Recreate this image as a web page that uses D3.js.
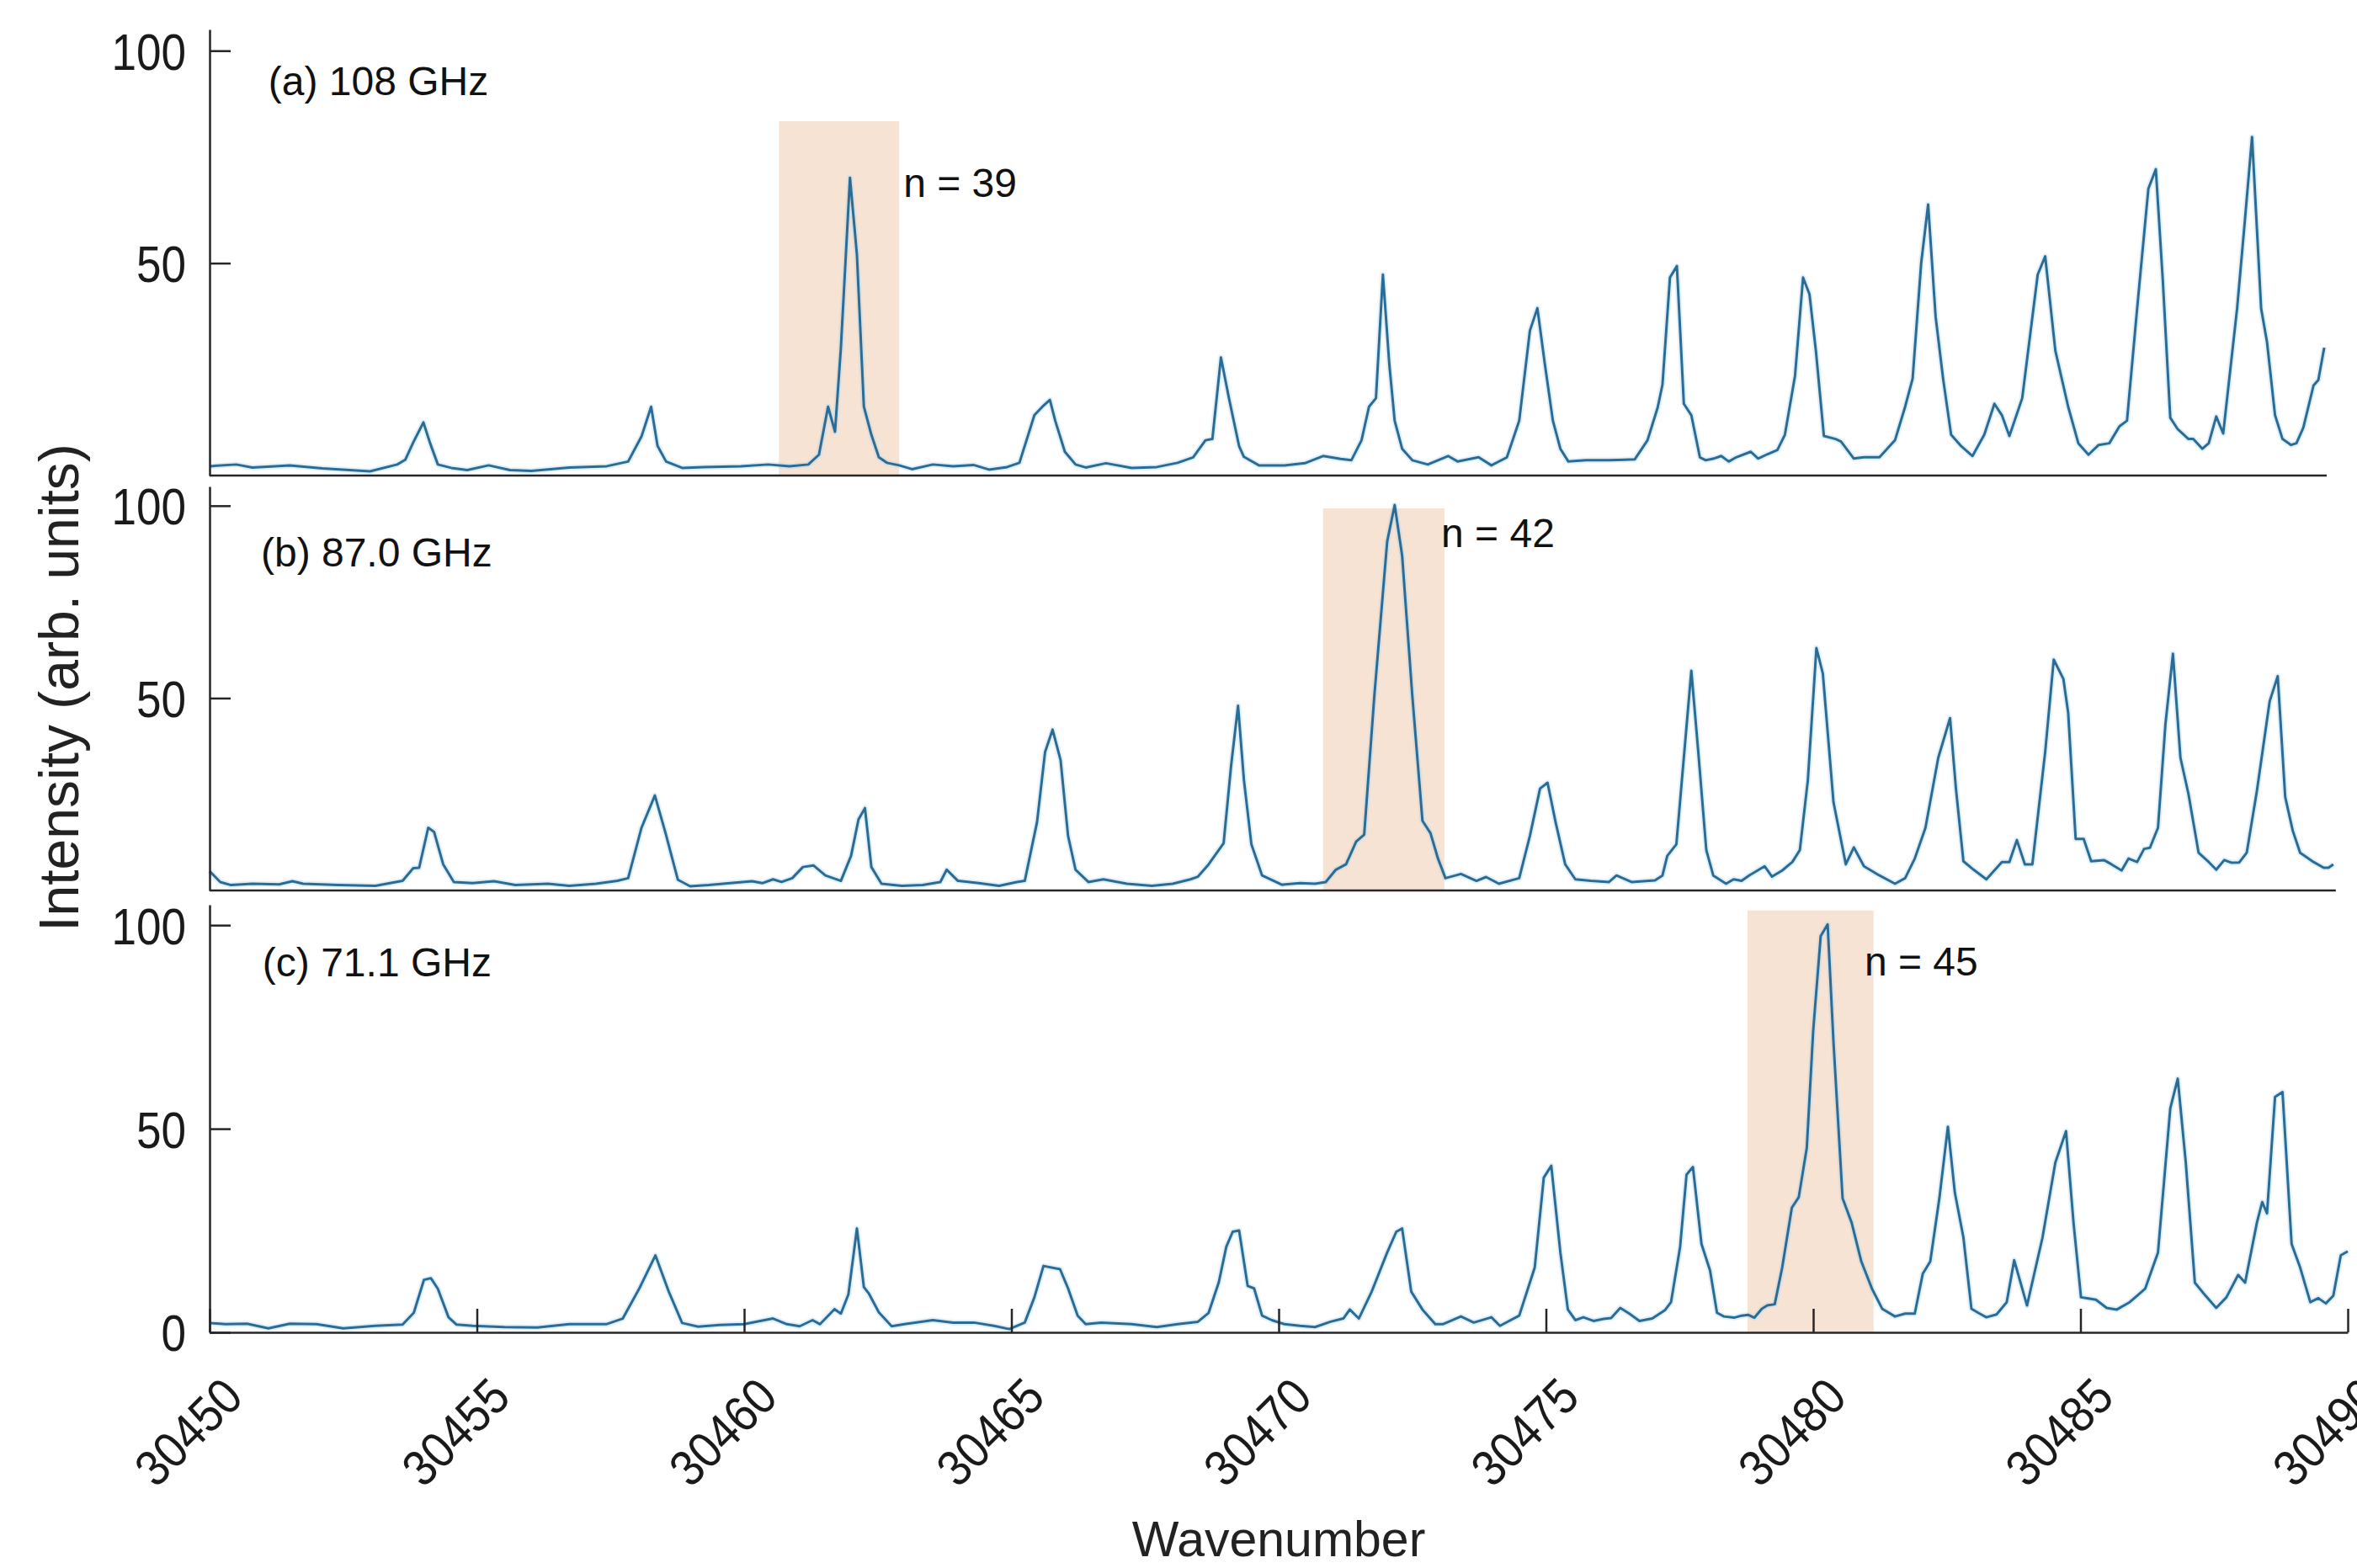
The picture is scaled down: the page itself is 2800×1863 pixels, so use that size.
<!DOCTYPE html>
<html>
<head>
<meta charset="utf-8">
<script src="https://cdn.jsdelivr.net/npm/d3@7"></script>
<style>
  html, body { margin: 0; padding: 0; background: #ffffff; }
  svg { display: block; }
</style>
</head>
<body>
<svg id="chart" width="2800" height="1863"></svg>
<script>
// ---------------- DATA ----------------
const panelTitles = ["(a) 108 GHz", "(b) 87.0 GHz", "(c) 71.1 GHz"];
const peakLabels = ["n = 39", "n = 42", "n = 45"];
// highlighted band per panel: [wavenumber start, wavenumber end, top intensity]
const highlightBands = [
  [30460.65, 30462.9, 83.4],
  [30470.83, 30473.1, 99.3],
  [30478.77, 30481.13, 103.6]
];
const xTickValues = [30450, 30455, 30460, 30465, 30470, 30475, 30480, 30485, 30490];
const yTickValuesUpper = [50, 100];
const yTickValuesBottom = [0, 50, 100];
const xAxisTitle = "Wavenumber";
const yAxisTitle = "Intensity (arb. units)";

// spectrum (a) 108 GHz : [wavenumber, intensity]
const spectrum108 = [
  [30450.0,2.2],[30450.5,2.6],[30450.8,1.9],[30451.5,2.4],[30452.11,1.7],[30453.0,1.0],
  [30453.51,2.6],[30453.66,3.7],[30453.81,7.8],[30454.0,12.5],[30454.12,7.8],[30454.27,2.6],
  [30454.52,1.8],[30454.82,1.3],[30455.22,2.4],[30455.62,1.3],[30456.02,1.1],[30456.73,1.9],
  [30457.43,2.2],[30457.83,3.3],[30458.08,9.2],[30458.26,16.2],[30458.38,7.0],[30458.54,3.3],
  [30458.84,1.8],[30459.24,2.0],[30459.94,2.2],[30460.45,2.6],[30460.85,2.2],[30461.2,2.6],
  [30461.4,4.9],[30461.57,16.2],[30461.7,10.3],[30461.81,30.1],[30461.98,70.1],[30462.11,52.0],
  [30462.24,16.2],[30462.38,9.6],[30462.52,4.3],[30462.67,3.0],[30462.9,2.4],[30463.14,1.5],
  [30463.53,2.6],[30463.91,2.2],[30464.29,2.5],[30464.58,1.4],[30464.92,2.0],[30465.15,3.0],
  [30465.43,14.2],[30465.58,16.2],[30465.72,17.8],[30465.82,12.9],[30466.0,5.6],[30466.2,2.6],
  [30466.39,1.9],[30466.77,2.9],[30467.25,1.8],[30467.72,2.0],[30468.11,3.0],[30468.4,4.3],
  [30468.63,8.3],[30468.76,8.6],[30468.92,27.8],[30469.07,18.2],[30469.26,6.9],[30469.35,4.4],
  [30469.63,2.4],[30470.11,2.4],[30470.49,2.9],[30470.83,4.6],[30471.16,3.9],[30471.36,3.6],
  [30471.55,8.3],[30471.69,16.2],[30471.82,18.2],[30471.95,47.3],[30472.07,26.2],[30472.17,12.9],
  [30472.31,6.3],[30472.5,3.6],[30472.79,2.6],[30473.17,4.6],[30473.35,3.3],[30473.74,4.3],
  [30473.98,2.4],[30474.27,4.3],[30474.5,12.9],[30474.7,34.1],[30474.84,39.4],[30474.98,26.2],
  [30475.13,12.9],[30475.27,6.3],[30475.42,3.3],[30475.75,3.6],[30476.18,3.6],[30476.47,3.7],
  [30476.66,3.8],[30476.9,8.3],[30477.09,16.0],[30477.18,21.4],[30477.32,46.6],[30477.45,49.3],
  [30477.58,16.9],[30477.72,14.2],[30477.88,4.3],[30477.99,3.6],[30478.14,4.0],[30478.28,4.6],
  [30478.42,3.3],[30478.56,4.3],[30478.83,5.6],[30478.97,4.0],[30479.14,5.0],[30479.33,6.0],
  [30479.47,9.6],[30479.66,23.5],[30479.81,46.6],[30479.93,42.7],[30480.05,29.4],[30480.2,9.3],
  [30480.42,8.6],[30480.52,8.0],[30480.76,4.0],[30480.95,4.3],[30481.24,4.3],[30481.53,8.3],
  [30481.72,16.2],[30481.86,22.8],[30482.02,50.0],[30482.15,63.8],[30482.29,37.4],[30482.43,22.8],
  [30482.58,9.6],[30482.77,6.9],[30482.98,4.6],[30483.2,9.6],[30483.39,16.9],[30483.53,14.2],
  [30483.67,9.3],[30483.91,18.2],[30484.2,47.3],[30484.34,51.6],[30484.53,29.4],[30484.77,16.2],
  [30484.96,7.6],[30485.15,4.9],[30485.34,7.2],[30485.54,7.6],[30485.73,11.6],[30485.87,12.9],
  [30486.06,39.3],[30486.27,67.5],[30486.41,72.1],[30486.54,46.0],[30486.68,13.6],[30486.82,10.9],
  [30487.02,8.6],[30487.11,8.6],[30487.28,6.3],[30487.4,7.6],[30487.54,13.9],[30487.67,9.9],
  [30487.93,39.3],[30488.07,59.2],[30488.21,79.7],[30488.38,39.3],[30488.49,31.4],[30488.64,14.2],
  [30488.78,8.6],[30488.94,7.2],[30489.04,7.6],[30489.17,11.3],[30489.36,21.2],[30489.45,22.5],
  [30489.56,30.1]
];

// spectrum (b) 87.0 GHz
const spectrum87 = [
  [30450.0,5.0],[30450.2,2.2],[30450.4,1.4],[30450.8,1.75],[30451.3,1.6],[30451.55,2.4],
  [30451.75,1.75],[30452.41,1.4],[30453.1,1.2],[30453.61,2.5],[30453.81,5.8],[30453.92,5.9],
  [30454.09,16.3],[30454.2,15.2],[30454.37,6.8],[30454.57,2.2],[30454.92,1.9],[30455.32,2.4],
  [30455.72,1.4],[30456.33,1.75],[30456.73,1.2],[30457.23,1.75],[30457.63,2.5],[30457.83,3.2],
  [30458.08,16.3],[30458.33,24.7],[30458.53,14.9],[30458.76,2.8],[30458.99,1.1],[30459.34,1.4],
  [30459.74,1.9],[30460.15,2.4],[30460.34,1.9],[30460.54,2.9],[30460.7,2.2],[30460.9,3.2],
  [30461.1,6.1],[30461.3,6.5],[30461.52,3.9],[30461.81,2.5],[30462.0,9.0],[30462.14,18.5],
  [30462.26,21.4],[30462.38,6.1],[30462.57,1.75],[30462.95,1.2],[30463.34,1.4],[30463.67,2.2],
  [30463.79,5.4],[30464.0,2.5],[30464.39,1.9],[30464.77,1.2],[30465.1,2.2],[30465.25,2.5],
  [30465.48,17.8],[30465.63,36.0],[30465.77,41.8],[30465.92,33.9],[30466.06,14.2],[30466.2,5.4],
  [30466.44,2.2],[30466.72,2.9],[30467.16,1.75],[30467.63,1.2],[30468.02,1.75],[30468.35,2.9],
  [30468.49,3.6],[30468.69,6.8],[30468.97,12.3],[30469.11,32.4],[30469.24,48.0],[30469.35,28.7],
  [30469.49,12.0],[30469.69,3.9],[30470.06,1.5],[30470.4,1.9],[30470.68,1.75],[30470.88,2.2],
  [30471.07,5.4],[30471.26,6.8],[30471.45,12.7],[30471.6,14.5],[30471.79,50.6],[30472.03,90.7],
  [30472.17,100.2],[30472.31,87.0],[30472.5,50.6],[30472.69,18.1],[30472.84,14.9],[30472.98,8.3],
  [30473.12,3.2],[30473.41,4.3],[30473.7,2.5],[30473.88,3.5],[30474.12,1.75],[30474.5,3.2],
  [30474.7,14.2],[30474.89,26.5],[30475.03,28.0],[30475.18,17.8],[30475.36,6.8],[30475.55,2.9],
  [30475.84,2.5],[30476.18,2.2],[30476.32,3.9],[30476.6,2.2],[30477.04,2.6],[30477.18,3.9],
  [30477.27,9.0],[30477.44,12.0],[30477.72,57.1],[30477.85,36.0],[30478.0,10.5],[30478.13,3.9],
  [30478.37,1.75],[30478.51,2.9],[30478.66,2.5],[30478.8,3.9],[30479.09,6.3],[30479.23,3.6],
  [30479.42,5.2],[30479.61,7.4],[30479.75,10.5],[30479.9,28.7],[30480.06,63.0],[30480.18,56.4],
  [30480.38,22.9],[30480.61,6.8],[30480.76,11.2],[30480.95,6.3],[30481.24,3.9],[30481.53,1.75],
  [30481.72,3.2],[30481.9,8.3],[30482.1,16.3],[30482.34,34.5],[30482.56,44.8],[30482.67,26.5],
  [30482.81,7.6],[30483.0,5.4],[30483.24,2.9],[30483.53,7.4],[30483.67,7.4],[30483.81,13.1],
  [30483.96,6.8],[30484.1,6.8],[30484.34,36.0],[30484.5,60.0],[30484.68,55.0],[30484.77,46.2],
  [30484.91,13.4],[30485.06,13.4],[30485.2,7.6],[30485.44,7.9],[30485.58,6.8],[30485.77,5.2],
  [30485.9,8.3],[30486.06,7.4],[30486.19,10.8],[30486.3,11.1],[30486.45,16.3],[30486.59,43.3],
  [30486.73,61.5],[30486.87,34.5],[30487.02,25.1],[30487.21,9.8],[30487.4,7.4],[30487.54,5.4],
  [30487.69,7.9],[30487.83,7.2],[30487.97,7.3],[30488.11,9.8],[30488.3,25.8],[30488.54,49.2],
  [30488.69,55.7],[30488.83,24.3],[30488.97,15.6],[30489.11,9.8],[30489.36,7.4],[30489.55,5.9],
  [30489.64,5.9],[30489.73,6.8]
];

// spectrum (c) 71.1 GHz
const spectrum71 = [
  [30450.0,2.3],[30450.3,2.0],[30450.7,2.1],[30451.1,1.0],[30451.5,2.1],[30452.0,2.0],
  [30452.5,1.0],[30453.1,1.6],[30453.61,1.9],[30453.82,4.8],[30454.01,12.9],[30454.14,13.3],
  [30454.27,10.7],[30454.47,3.7],[30454.62,1.9],[30454.92,1.6],[30455.52,1.3],[30456.13,1.2],
  [30456.73,2.0],[30457.42,2.0],[30457.73,3.4],[30458.04,10.8],[30458.34,18.9],[30458.59,10.0],
  [30458.84,2.3],[30459.14,1.4],[30459.54,1.8],[30460.0,2.0],[30460.54,3.4],[30460.8,2.0],
  [30461.04,1.5],[30461.28,3.0],[30461.42,2.0],[30461.69,5.7],[30461.81,4.6],[30461.95,9.3],
  [30462.11,25.5],[30462.24,11.1],[30462.33,9.6],[30462.52,4.9],[30462.76,1.5],[30463.0,2.0],
  [30463.53,3.0],[30463.91,2.4],[30464.3,2.4],[30464.67,1.6],[30464.96,0.8],[30465.25,2.4],
  [30465.43,8.6],[30465.6,16.3],[30465.91,15.5],[30466.06,10.8],[30466.24,4.1],[30466.39,2.0],
  [30466.68,2.4],[30467.25,2.0],[30467.72,1.3],[30468.11,2.0],[30468.49,2.6],[30468.69,4.8],
  [30468.88,12.3],[30469.02,21.0],[30469.14,24.7],[30469.26,25.0],[30469.42,11.4],[30469.54,10.8],
  [30469.69,4.1],[30469.87,3.0],[30470.11,2.0],[30470.4,1.6],[30470.68,1.3],[30470.97,2.6],
  [30471.21,3.4],[30471.33,5.6],[30471.5,3.4],[30471.74,10.0],[30472.03,19.6],[30472.2,24.7],
  [30472.31,25.5],[30472.48,10.0],[30472.69,5.6],[30472.93,2.0],[30473.07,2.0],[30473.41,3.9],
  [30473.65,2.4],[30473.98,3.7],[30474.14,1.6],[30474.5,4.1],[30474.79,15.9],[30474.96,38.0],
  [30475.1,40.9],[30475.27,19.6],[30475.41,5.6],[30475.55,3.0],[30475.7,3.7],[30475.89,2.8],
  [30476.08,3.3],[30476.22,3.5],[30476.39,6.0],[30476.56,4.6],[30476.75,2.8],[30476.99,3.4],
  [30477.23,5.5],[30477.34,7.4],[30477.51,21.0],[30477.63,38.7],[30477.75,40.6],[30477.91,21.7],
  [30478.07,15.2],[30478.2,4.8],[30478.33,3.9],[30478.52,3.6],[30478.66,4.1],[30478.78,4.3],
  [30478.9,3.6],[30479.04,5.8],[30479.14,6.6],[30479.28,6.9],[30479.42,15.9],[30479.6,30.6],
  [30479.73,33.2],[30479.88,45.3],[30480.0,74.1],[30480.14,97.3],[30480.27,100.2],[30480.38,71.1],
  [30480.55,32.9],[30480.72,26.9],[30480.9,17.4],[30481.1,10.7],[30481.29,5.8],[30481.53,3.9],
  [30481.72,4.6],[30481.9,4.6],[30482.05,14.4],[30482.19,17.4],[30482.36,32.9],[30482.52,50.5],
  [30482.65,34.3],[30482.81,23.3],[30482.96,5.8],[30483.1,4.7],[30483.24,3.7],[30483.43,4.4],
  [30483.62,7.4],[30483.76,17.7],[30484.0,6.6],[30484.29,23.3],[30484.53,41.7],[30484.73,49.4],
  [30484.87,26.9],[30485.01,8.6],[30485.15,8.3],[30485.29,8.0],[30485.49,6.0],[30485.68,5.6],
  [30485.92,7.4],[30486.21,10.7],[30486.45,19.6],[30486.68,55.0],[30486.82,62.3],[30486.97,41.7],
  [30487.14,12.2],[30487.32,9.3],[30487.54,6.0],[30487.73,8.6],[30487.95,14.1],[30488.08,12.2],
  [30488.3,26.9],[30488.4,32.0],[30488.49,29.2],[30488.64,57.8],[30488.78,59.0],[30488.95,21.7],
  [30489.11,15.9],[30489.3,7.4],[30489.45,8.4],[30489.59,7.1],[30489.73,9.0],[30489.87,18.9],
  [30490.0,19.9]
];

const spectra = [spectrum108, spectrum87, spectrum71];

// ---------------- LAYOUT ----------------
const W = 2800, H = 1863;
const plotLeft = 249, plotRight = 2789;
const panelBoxes = [
  { top: 35,   bottom: 565 },
  { top: 578,  bottom: 1058 },
  { top: 1075, bottom: 1583 }
];
// annotation anchors in data coordinates [wavenumber, intensity]
const titleAnchors = [[30451.1, 89.5], [30450.96, 84.2], [30450.99, 87.4]];
const peakLabelAnchors = [[30462.98, 65.6], [30473.04, 89.3], [30480.96, 87.6]];

const FONT = "'Liberation Sans', Arial, Helvetica, sans-serif";
const AXIS_COLOR = "#262626";
const LINE_COLOR = "#2a6c96";
const BAND_COLOR = "#f6e3d3";

const svg = d3.select("#chart");
svg.append("rect").attr("width", W).attr("height", H).attr("fill", "#ffffff");

const x = d3.scaleLinear().domain([30450, 30490]).range([plotLeft, plotRight]);

panelBoxes.forEach((box, i) => {
  const y = d3.scaleLinear().domain([0, 105]).range([box.bottom, box.top]);
  const g = svg.append("g").attr("class", "panel-" + i);
  const data = spectra[i];

  // highlight band
  const band = highlightBands[i];
  g.append("rect")
    .attr("x", x(band[0]))
    .attr("width", x(band[1]) - x(band[0]))
    .attr("y", y(band[2]))
    .attr("height", y(0) - y(band[2]))
    .attr("fill", BAND_COLOR);

  // spectrum line (soft halo + main stroke)
  const line = d3.line().x(d => x(d[0])).y(d => y(d[1]));
  g.append("path").datum(data)
    .attr("d", line)
    .attr("fill", "none")
    .attr("stroke", "#9fd1ec")
    .attr("stroke-opacity", 0.3)
    .attr("stroke-width", 7)
    .attr("stroke-linejoin", "round");
  g.append("path").datum(data)
    .attr("d", line)
    .attr("fill", "none")
    .attr("stroke", LINE_COLOR)
    .attr("stroke-width", 3)
    .attr("stroke-linejoin", "round");

  // y axis
  const yTicks = (i === 2) ? yTickValuesBottom : yTickValuesUpper;
  const yAxis = d3.axisLeft(y).tickValues(yTicks).tickSize(-25).tickSizeOuter(0).tickPadding(0);
  const ya = g.append("g").attr("transform", `translate(${plotLeft},0)`).call(yAxis);
  ya.select(".domain").attr("stroke", AXIS_COLOR).attr("stroke-width", 2.5);
  ya.selectAll(".tick line").attr("stroke", AXIS_COLOR).attr("stroke-width", 2.5);
  ya.selectAll(".tick text")
    .attr("font-family", FONT)
    .attr("font-size", 61)
    .attr("fill", "#1a1a1a")
    .attr("text-anchor", "end")
    .attr("x", -28 / 0.87)
    .attr("dy", "0.36em")
    .attr("transform", "scale(0.87,1)");

  // x axis line
  if (i < 2) {
    const lastX = data[data.length - 1][0];
    g.append("line")
      .attr("x1", plotLeft).attr("x2", x(lastX) + 3)
      .attr("y1", box.bottom).attr("y2", box.bottom)
      .attr("stroke", AXIS_COLOR).attr("stroke-width", 2.5);
  } else {
    const xAxis = d3.axisBottom(x).tickValues(xTickValues).tickSize(-28).tickSizeOuter(0)
      .tickFormat(d3.format("d"));
    const xa = g.append("g").attr("transform", `translate(0,${box.bottom})`).call(xAxis);
    xa.select(".domain").attr("stroke", AXIS_COLOR).attr("stroke-width", 2.5);
    xa.selectAll(".tick line").attr("stroke", AXIS_COLOR).attr("stroke-width", 2.5);
    xa.selectAll(".tick text")
      .attr("font-family", FONT)
      .attr("font-size", 60)
      .attr("fill", "#1a1a1a")
      .attr("text-anchor", "end")
      .attr("x", 0).attr("y", 0).attr("dy", 0)
      .attr("transform", "translate(42,80) rotate(-45) scale(0.9,1)");
  }

  // panel title
  g.append("text")
    .attr("x", x(titleAnchors[i][0]))
    .attr("y", y(titleAnchors[i][1]))
    .attr("font-family", FONT)
    .attr("font-size", 48)
    .attr("fill", "#111")
    .text(panelTitles[i]);

  // peak label
  g.append("text")
    .attr("x", x(peakLabelAnchors[i][0]))
    .attr("y", y(peakLabelAnchors[i][1]))
    .attr("font-family", FONT)
    .attr("font-size", 48)
    .attr("fill", "#111")
    .text(peakLabels[i]);
});

// axis titles
svg.append("text")
  .attr("transform", "translate(93,817) rotate(-90)")
  .attr("text-anchor", "middle")
  .attr("font-family", FONT)
  .attr("font-size", 66)
  .attr("fill", "#222")
  .text(yAxisTitle);

svg.append("text")
  .attr("x", (plotLeft + plotRight) / 2)
  .attr("y", 1849)
  .attr("text-anchor", "middle")
  .attr("font-family", FONT)
  .attr("font-size", 59)
  .attr("fill", "#222")
  .text(xAxisTitle);
</script>
</body>
</html>
